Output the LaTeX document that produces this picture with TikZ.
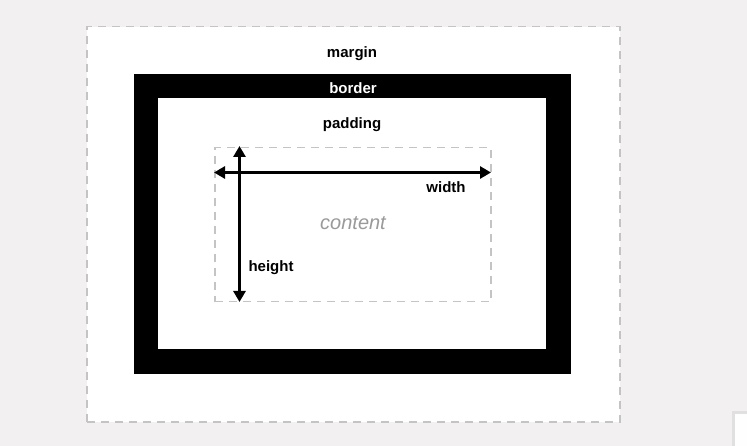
\documentclass[tikz,border=0pt]{standalone}
\usepackage{fontspec}
\setmainfont{Liberation Sans}
\usetikzlibrary{arrows.meta}
\definecolor{bgc}{HTML}{F2F0F0}
\definecolor{dashc}{HTML}{C4C4C4}
\definecolor{contc}{HTML}{9A9A9A}
\tikzset{
  lbl/.style={font=\fontsize{15}{16}\selectfont\bfseries, inner sep=0pt, anchor=base},
  dashbox/.style={draw=dashc, line width=1.5pt, dash pattern=on 8pt off 6pt},
  dimarrow/.style={line width=3.2pt, {Triangle[length=11pt,width=12pt]}-{Triangle[length=11pt,width=12pt]}}
}
\begin{document}
\begin{tikzpicture}[x=1pt,y=-1pt]
\useasboundingbox (0,0) rectangle (747,446);
\fill[bgc] (0,0) rectangle (747,446);
% margin box
\node[dashbox, fill=white, minimum width=533pt, minimum height=395pt, inner sep=0pt, anchor=north west] (marginbox) at (86,26) {};
% border box
\node[fill=black, minimum width=437pt, minimum height=300pt, inner sep=0pt, anchor=north west] (borderbox) at (134,74) {};
% padding box
\node[fill=white, minimum width=388pt, minimum height=251pt, inner sep=0pt, anchor=north west] (paddingbox) at (158,98) {};
% content box
\node[dashbox, minimum width=276pt, minimum height=154pt, inner sep=0pt, anchor=north west] (contentbox) at (214,147) {};
% labels
\node[lbl] (marginlbl) at (352,57.5) {margin};
\node[lbl, text=white] (borderlbl) at (353,94) {border};
\node[lbl] (paddinglbl) at (352,128.5) {padding};
\node[lbl] (widthlbl) at (446,192.5) {width};
\node[lbl] (heightlbl) at (271,271.5) {height};
\node[font=\fontsize{20}{22}\selectfont\itshape, text=contc, inner sep=0pt, anchor=base] (contentlbl) at (353,229.5) {content};
% arrows
\coordinate (wl) at (214,172.5);
\coordinate (wr) at (491,172.5);
\coordinate (ht) at (239.5,146);
\coordinate (hb) at (239.5,302);
\draw[dimarrow] (wl) -- (wr);
\draw[dimarrow] (ht) -- (hb);
% corner artifact
\fill[black!12] (732,411) rectangle (747,446);
\node[fill=white!96!bgc, minimum width=13pt, minimum height=33pt, inner sep=0pt, anchor=north west] (corner) at (735,414) {};
\end{tikzpicture}
\end{document}
